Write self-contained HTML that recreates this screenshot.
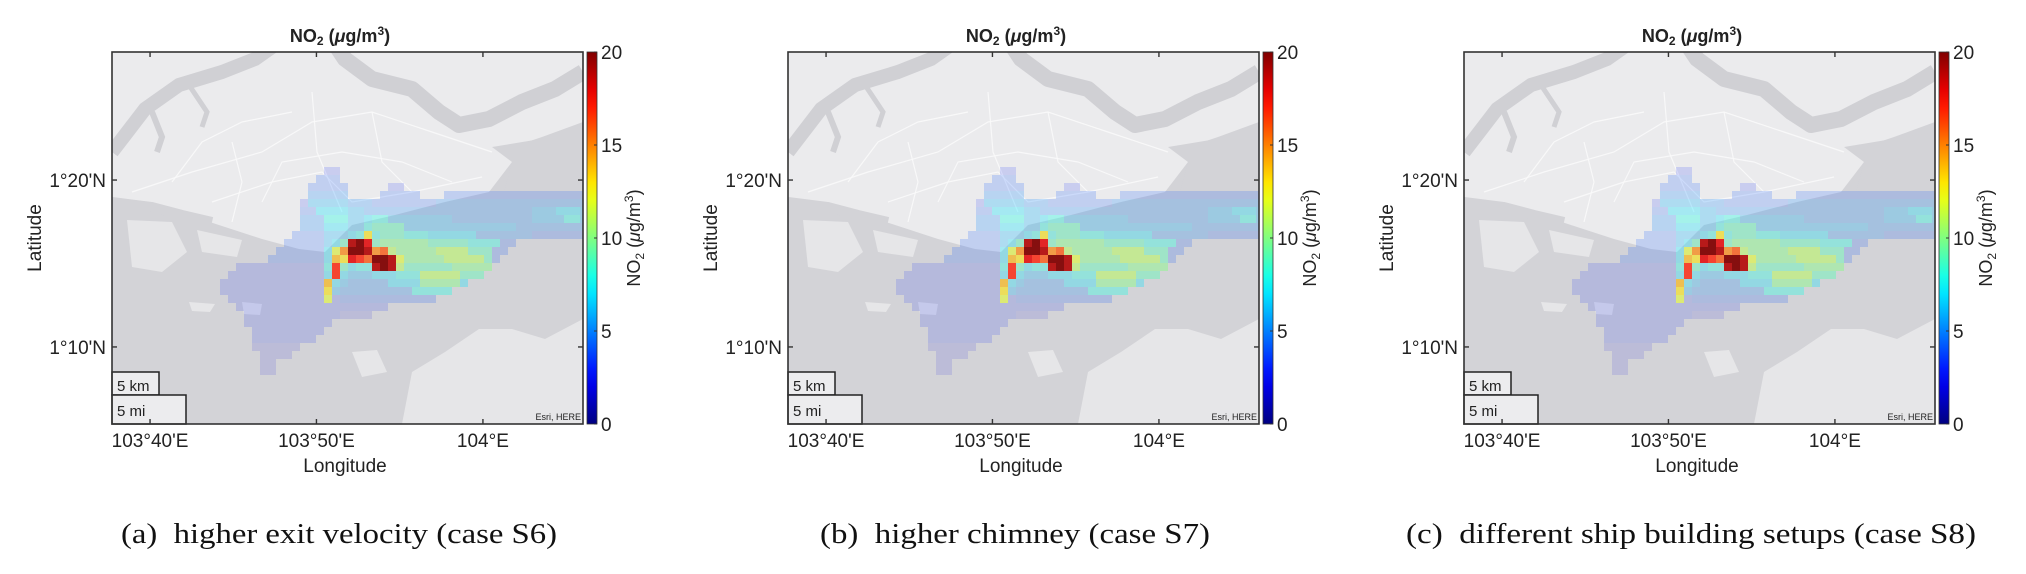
<!DOCTYPE html>
<html><head><meta charset="utf-8">
<style>
html,body{margin:0;padding:0;background:#fff;}
svg{display:block;}
text{font-family:"Liberation Sans",sans-serif;fill:#222;}
</style></head>
<body>
<svg id="fig" width="2026" height="574" viewBox="0 0 2026 574" xmlns="http://www.w3.org/2000/svg">
<defs id="defs"></defs>
</svg>
<script>
// ---- data ----
const panelCaptions = ["(a)  higher exit velocity (case S6)", "(b)  higher chimney (case S7)", "(c)  different ship building setups (case S8)"];
const captionWidths = [436, 390, 570];
const lonTicks = [103.6667, 103.8333, 104.0];
const lonTickLabels = ["103°40'E", "103°50'E", "104°E"];
const latTicks = [1.3333, 1.1667];
const latTickLabels = ["1°20'N", "1°10'N"];
const cbarTicks = [0, 5, 10, 15, 20];
const cbarTickLabels = ["0", "5", "10", "15", "20"];
const lonRange = [103.6286, 104.1002];
const latRange = [1.4611, 1.0898];
const cbarRange = [0, 20];
// plume runs: [row, firstCol, lastCol, NO2 value]
const plumeRuns = [
[0,15,16,3],[1,14,16,4],[2,13,17,4],[2,23,24,3],
[3,13,17,5],[3,22,26,4],[3,30,47,4],
[4,12,12,3],[4,13,17,6],[4,18,20,5],[4,21,28,4],[4,29,47,5],
[5,12,13,4],[5,14,17,7],[5,18,19,6],[5,20,30,5],[5,31,40,5],[5,41,43,6],[5,44,46,7],[5,47,47,6],
[6,12,14,5],[6,15,17,8],[6,18,19,6],[6,20,20,7],[6,21,22,8],[6,23,30,6],[6,31,40,5],[6,41,44,6],[6,45,46,8],[6,47,47,6],
[7,12,14,5],[7,15,17,7],[7,18,19,6],[7,20,20,8],[7,21,24,9],[7,25,30,6],[7,31,38,6],[7,39,47,5],
[8,11,14,4],[8,15,17,6],[8,18,18,7],[8,19,19,8],[8,20,20,13],[8,21,21,8],[8,22,24,9],[8,25,27,8],[8,28,33,7],[8,34,40,5],[8,41,47,4],
[9,10,14,4],[9,15,15,6],[9,16,16,7],[9,17,17,9],[9,18,18,19],[9,19,19,20],[9,20,20,18],[9,21,21,9],[9,22,27,10],[9,28,32,9],[9,33,36,8],[9,37,38,4],
[10,9,14,4],[10,15,15,7],[10,16,16,12],[10,17,17,15],[10,18,19,20],[10,20,20,19],[10,21,21,15],[10,22,22,16],[10,23,23,11],[10,24,28,10],[10,29,32,11],[10,33,35,9],[10,36,37,4],
[11,8,14,4],[11,15,15,7],[11,16,16,14],[11,17,17,13],[11,18,18,18],[11,19,19,17],[11,20,20,16],[11,21,22,20],[11,23,23,19],[11,24,24,12],[11,25,29,10],[11,30,34,11],[11,35,35,9],[11,36,36,4],
[12,4,14,3],[12,15,15,8],[12,16,16,17],[12,17,17,9],[12,18,18,7],[12,19,20,8],[12,21,21,19],[12,22,22,20],[12,23,23,19],[12,24,24,11],[12,25,30,9],[12,31,35,10],
[13,3,14,3],[13,15,15,7],[13,16,16,17],[13,17,17,7],[13,18,20,6],[13,21,23,7],[13,24,26,8],[13,27,31,11],[13,32,34,9],
[14,2,14,3],[14,15,15,14],[14,16,16,7],[14,17,17,6],[14,18,22,5],[14,23,26,7],[14,27,31,10],[14,32,32,7],
[15,2,14,3],[15,15,15,13],[15,16,16,6],[15,17,25,5],[15,26,30,8],
[16,3,14,3],[16,15,15,12],[16,16,16,3],[16,17,28,4],
[17,4,22,3],[18,5,16,3],[18,17,20,2],[19,5,15,3],[20,6,14,3],[21,6,13,3],[22,6,11,2],[23,7,10,2],[24,7,8,2],[25,7,8,2]
];

// ---- layout ----
const NS = "http://www.w3.org/2000/svg";
const svg = document.getElementById('fig');
const PX = 112, PY = 52, PW = 471, PH = 372;
const CBX = 587, CBW = 10;
const panelOffsets = [0, 676, 1352];
const GX = 92, GY = 115, CELL = 8;

function mk(tag, attrs, parent) {
  const e = document.createElementNS(NS, tag);
  for (const k in attrs) e.setAttribute(k, attrs[k]);
  parent.appendChild(e);
  return e;
}
function xScale(lon) { return PX + (lon - lonRange[0]) / (lonRange[1] - lonRange[0]) * PW; }
function yScale(lat) { return PY + (lat - latRange[0]) / (latRange[1] - latRange[0]) * PH; }
function cScale(v) { return PY + PH - (v - cbarRange[0]) / (cbarRange[1] - cbarRange[0]) * PH; }
function clamp(x) { return Math.max(0, Math.min(1, x)); }
function jet(t) {
  const r = clamp(1.5 - Math.abs(4 * t - 3)), g = clamp(1.5 - Math.abs(4 * t - 2)), b = clamp(1.5 - Math.abs(4 * t - 1));
  return `rgb(${Math.round(r * 255)},${Math.round(g * 255)},${Math.round(b * 255)})`;
}

const defs = document.getElementById('defs');
const grad = mk('linearGradient', {id: 'jetgrad', x1: 0, y1: 1, x2: 0, y2: 0}, defs);
for (let i = 0; i <= 20; i++) mk('stop', {offset: i / 20, 'stop-color': jet(i / 20)}, grad);
const cp = mk('clipPath', {id: 'plotclip'}, defs);
mk('rect', {x: PX, y: PY, width: PW, height: PH}, cp);

function P(pts) { return pts.map(p => (PX + p[0]) + ',' + (PY + p[1])).join(' '); }

panelOffsets.forEach((off, pi) => {
  const g = mk('g', {transform: `translate(${off},0)`}, svg);
  
  

  const map = mk('g', {'clip-path': 'url(#plotclip)'}, g);
  
  
  mk('rect', {x: PX, y: PY, width: PW, height: PH, fill: '#d3d3d7'}, map);
  mk('polygon', {fill: '#ebebed', points: P([[0,0],[471,0],[471,70],[430,85],[400,95],[400,110],[377,140],[333,150],[283,163],[240,173],[213,200],[187,197],[150,187],[67,160],[0,147]])}, map);
  mk('polygon', {fill: '#d3d3d7', points: P([[380,95],[471,80],[471,190],[380,190],[392,140],[400,110]])}, map);
  mk('polyline', {fill: 'none', stroke: '#d0d0d4', 'stroke-width': 14, 'stroke-linejoin': 'round', points: P([[0,100],[33,57],[67,33],[110,20],[143,7],[160,-5]])}, map);
  mk('polyline', {fill: 'none', stroke: '#d0d0d4', 'stroke-width': 16, 'stroke-linejoin': 'round', points: P([[225,-5],[233,7],[260,27],[300,37],[327,60],[347,73],[377,67],[410,50],[443,37],[471,20]])}, map);
  mk('polyline', {fill: 'none', stroke: '#d0d0d4', 'stroke-width': 6, points: P([[40,60],[50,85],[45,100]])}, map);
  mk('polyline', {fill: 'none', stroke: '#d0d0d4', 'stroke-width': 5, points: P([[75,30],[95,60],[90,75]])}, map);
  mk('polyline', {fill: 'none', stroke: '#d3d3d7', 'stroke-width': 10, points: P([[0,150],[40,155],[70,163],[100,170]])}, map);
  mk('polygon', {fill: '#e6e6e8', points: P([[15,168],[60,170],[75,200],[50,220],[20,215]])}, map);
  mk('polygon', {fill: '#e6e6e8', points: P([[85,178],[130,188],[125,205],[90,200]])}, map);
  mk('polygon', {fill: '#e6e6e8', points: P([[77,250],[103,252],[98,260],[80,259]])}, map);
  mk('polygon', {fill: '#e6e6e8', points: P([[130,250],[150,252],[148,263],[132,262]])}, map);
  mk('polygon', {fill: '#e6e6e8', points: P([[290,372],[300,320],[333,300],[367,277],[400,277],[433,287],[471,267],[471,372]])}, map);
  mk('polygon', {fill: '#e6e6e8', points: P([[240,300],[265,298],[275,320],[250,325]])}, map);
  const roads = [
    [[20,140],[80,120],[150,100],[200,70],[260,60],[320,80],[380,100]],
    [[100,150],[160,130],[210,120],[240,150],[300,140],[370,125]],
    [[200,40],[205,100],[230,160]],
    [[60,130],[90,90],[130,70],[180,60]],
    [[150,150],[170,110],[230,100],[290,110],[340,130]],
    [[260,60],[270,110],[300,140]],
    [[120,170],[130,130],[120,90]]
  ];
  roads.forEach(rd => mk('polyline', {fill: 'none', stroke: '#fafafa', 'stroke-width': 1.2, opacity: 0.9, points: P(rd)}, map));

  const plume = mk('g', {'clip-path': 'url(#plotclip)'}, g);
  
  
  plumeRuns.forEach(run => {
    const [row, c0, c1, v] = run;
    for (let c = c0; c <= c1; c++) {
      const t = (v - cbarRange[0]) / (cbarRange[1] - cbarRange[0]);
      const r = mk('rect', {x: PX + GX + c * CELL, y: PY + GY + row * CELL, width: CELL, height: CELL, fill: jet(t), opacity: (0.05 + 0.88 * Math.pow(t, 1.2)).toFixed(3)}, plume);
      
      
    }
  });

  const sb = mk('g', {}, g);
  
  
  mk('rect', {x: PX, y: 372, width: 47, height: 23, fill: '#ececee', stroke: '#222', 'stroke-width': 1.5}, sb);
  mk('rect', {x: PX, y: 395, width: 74, height: 29, fill: '#ececee', stroke: '#222', 'stroke-width': 1.5}, sb);
  const t1 = mk('text', {x: PX + 5, y: 391, 'font-size': 15}, sb); t1.textContent = '5 km';
  const t2 = mk('text', {x: PX + 5, y: 416, 'font-size': 15}, sb); t2.textContent = '5 mi';
  const esri = mk('text', {x: PX + PW - 2, y: 420, 'font-size': 9, 'text-anchor': 'end', fill: '#555'}, g);
  
  
  esri.textContent = 'Esri, HERE';

  const box = mk('rect', {x: PX, y: PY, width: PW, height: PH, fill: 'none', stroke: '#333', 'stroke-width': 1.6}, g);
  
  

  lonTicks.forEach((lon, i) => {
    const x = xScale(lon);
    mk('line', {x1: x, y1: PY, x2: x, y2: PY + 5, stroke: '#333', 'stroke-width': 1.4}, g);
    mk('line', {x1: x, y1: PY + PH, x2: x, y2: PY + PH - 5, stroke: '#333', 'stroke-width': 1.4}, g);
    const t = mk('text', {x: x, y: 447, 'font-size': 19, 'text-anchor': 'middle'}, g);
    
    
    t.textContent = lonTickLabels[i];
  });
  latTicks.forEach((lat, i) => {
    const y = yScale(lat);
    mk('line', {x1: PX, y1: y, x2: PX + 5, y2: y, stroke: '#333', 'stroke-width': 1.4}, g);
    mk('line', {x1: PX + PW, y1: y, x2: PX + PW - 5, y2: y, stroke: '#333', 'stroke-width': 1.4}, g);
    const t = mk('text', {x: 106, y: y + 7, 'font-size': 19, 'text-anchor': 'end'}, g);
    
    
    t.textContent = latTickLabels[i];
  });
  const xl = mk('text', {x: 345, y: 472, 'font-size': 19, 'text-anchor': 'middle'}, g);
  
  
  xl.textContent = 'Longitude';
  const yl = mk('text', {x: 0, y: 0, 'font-size': 19, 'text-anchor': 'middle', transform: 'translate(41,238) rotate(-90)'}, g);
  
  
  yl.textContent = 'Latitude';

  const ti = mk('text', {x: 340, y: 42, 'font-size': 18, 'font-weight': 'bold', 'text-anchor': 'middle'}, g);
  
  
  ti.innerHTML = 'NO<tspan font-size="12" dy="3">2</tspan><tspan dy="-3"> (</tspan><tspan font-style="italic">μ</tspan>g/m<tspan font-size="12" dy="-7">3</tspan><tspan dy="7">)</tspan>';

  const cb = mk('rect', {x: CBX, y: PY, width: CBW, height: PH, fill: 'url(#jetgrad)', stroke: '#333', 'stroke-width': 0.8}, g);
  
  
  cbarTicks.forEach((v, i) => {
    const y = cScale(v);
    mk('line', {x1: CBX + CBW - 3, y1: y, x2: CBX + CBW, y2: y, stroke: '#333', 'stroke-width': 1}, g);
    const t = mk('text', {x: 601, y: y + 7, 'font-size': 19}, g);
    
    
    t.textContent = cbarTickLabels[i];
  });
  const cbl = mk('text', {x: 0, y: 0, 'font-size': 18, 'text-anchor': 'middle', transform: 'translate(640,238) rotate(-90)'}, g);
  
  
  cbl.innerHTML = 'NO<tspan font-size="12" dy="4">2</tspan><tspan dy="-4"> (</tspan><tspan font-style="italic">μ</tspan>g/m<tspan font-size="12" dy="-7">3</tspan><tspan dy="7">)</tspan>';

  const cap = mk('text', {x: 339, y: 543, 'font-size': 29, 'text-anchor': 'middle', textLength: captionWidths[pi], lengthAdjust: 'spacingAndGlyphs', 'xml:space': 'preserve', style: 'font-family:"Liberation Serif",serif;fill:#111;white-space:pre'}, g);
  
  
  cap.textContent = panelCaptions[pi];
});
</script>
</body></html>
